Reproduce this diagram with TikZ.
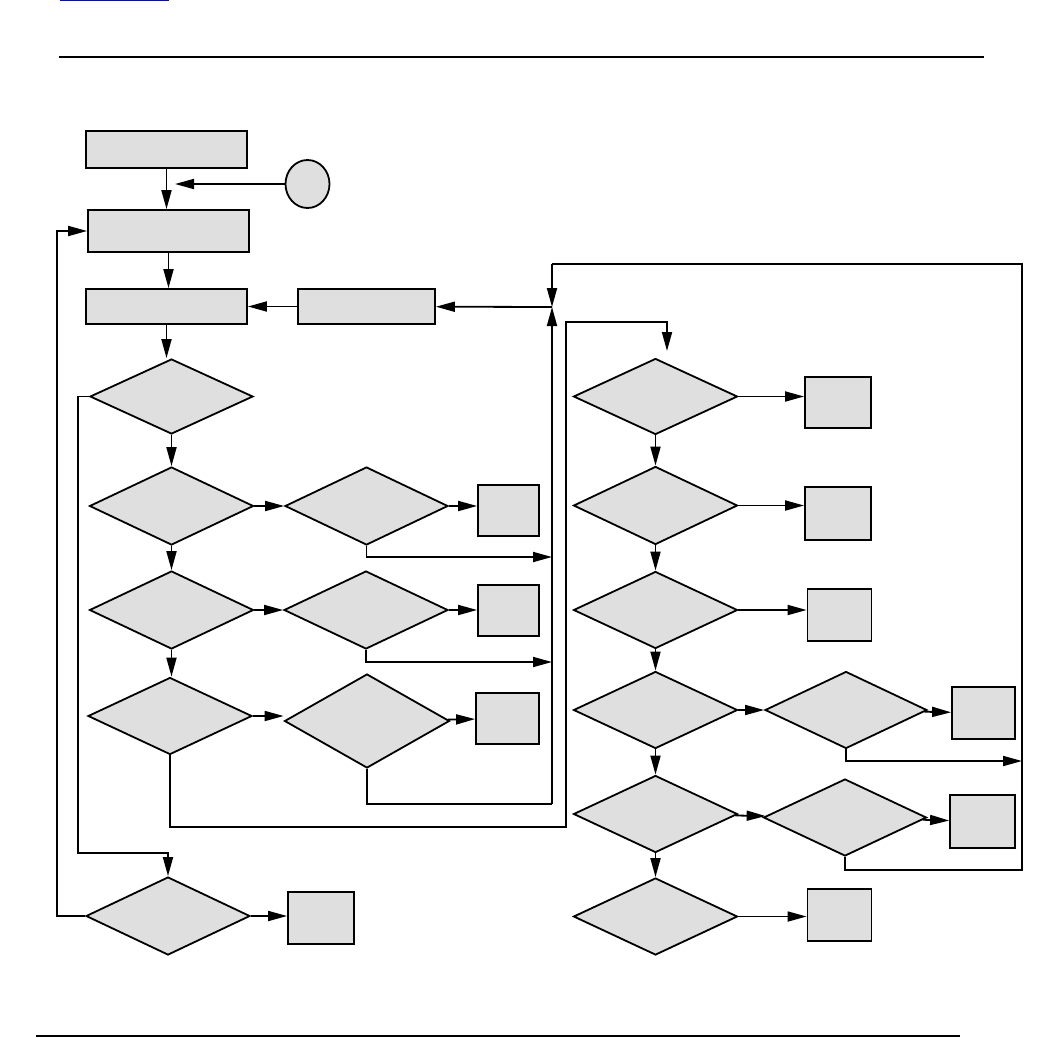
\documentclass[tikz,border=0pt]{standalone}
\usepackage{tikz}
\usetikzlibrary{arrows.meta, positioning, shapes.geometric}

\begin{document}
\begin{tikzpicture}[
  x=1pt, y=-1pt,
  box/.style={rectangle, draw, fill=gray!25, line width=1.8pt, inner sep=0pt},
  decision/.style={diamond, draw, fill=gray!25, line width=1.8pt, inner sep=0pt},
  arrow/.style={-{Triangle[length=19pt,width=10pt]}, line width=1.8pt},
  line/.style={line width=1.8pt},
  rule/.style={line width=2.2pt}
]
\useasboundingbox (0,0) rectangle (1052,1037);
\draw[blue, line width=1.2pt] (60,0.6) -- (169,0.6);
\draw[rule] (59,57) -- (984,57);
\draw[rule] (36,1036) -- (960,1036);

% left column
\node[box, minimum width=161pt, minimum height=37pt] (start) at (166.5,149.5) {};
\node[ellipse, draw, fill=gray!25, line width=1.8pt, inner sep=0pt,
      minimum width=44pt, minimum height=48pt] (conn) at (307.5,184) {};
\node[box, minimum width=161pt, minimum height=42pt] (init) at (168.5,231) {};
\node[box, minimum width=161pt, minimum height=35pt] (load) at (166.5,306.5) {};
\node[box, minimum width=137pt, minimum height=35pt] (reset) at (366.5,306.5) {};
\node[decision, minimum width=163pt, minimum height=75pt] (dl1) at (171.5,396.5) {};
\node[decision, minimum width=164pt, minimum height=78pt] (dl2) at (171.5,506) {};
\node[decision, minimum width=164pt, minimum height=78pt] (dl3) at (171.5,610) {};
\node[decision, minimum width=164pt, minimum height=77pt] (dl4) at (170,716) {};
\node[decision, minimum width=164pt, minimum height=78pt] (dl5) at (168,916) {};
\node[decision, minimum width=163pt, minimum height=78pt] (dm2) at (366.5,506) {};
\node[decision, minimum width=164pt, minimum height=78pt] (dm3) at (366,610) {};
\node[decision, minimum width=165pt, minimum height=94pt] (dm4) at (367,721) {};
\node[box, minimum width=61pt, minimum height=51pt] (bx2) at (508.5,510.5) {};
\node[box, minimum width=61pt, minimum height=51pt] (bx3) at (508.5,610.5) {};
\node[box, minimum width=63pt, minimum height=51pt] (bx4) at (507.5,718.5) {};
\node[box, minimum width=66pt, minimum height=52pt] (bx5) at (321,918) {};

% right column
\node[decision, minimum width=164pt, minimum height=76pt] (dr1) at (655.5,396.5) {};
\node[decision, minimum width=164pt, minimum height=78pt] (dr2) at (655.5,505.5) {};
\node[decision, minimum width=164pt, minimum height=77pt] (dr3) at (655.5,610) {};
\node[decision, minimum width=164pt, minimum height=77pt] (dr4) at (655.5,710) {};
\node[decision, minimum width=164pt, minimum height=77pt] (dr5) at (655.5,814) {};
\node[decision, minimum width=164pt, minimum height=77pt] (dr6) at (655.5,916.5) {};
\node[decision, minimum width=162pt, minimum height=77pt] (dq4) at (846,710) {};
\node[decision, minimum width=163pt, minimum height=77pt] (dq5) at (845,817.5) {};
\node[box, minimum width=66pt, minimum height=51pt] (br1) at (838,402.5) {};
\node[box, minimum width=66pt, minimum height=53pt] (br2) at (838,513.5) {};
\node[box, minimum width=64pt, minimum height=52pt] (br3) at (839.5,615) {};
\node[box, minimum width=64pt, minimum height=52pt] (br6) at (839.5,915) {};
\node[box, minimum width=63pt, minimum height=52pt] (bt4) at (983.5,713) {};
\node[box, minimum width=65pt, minimum height=53pt] (bt5) at (982.5,821.5) {};

% junction points
\coordinate (cjoin) at (175,184);
\coordinate (ctop) at (552,264);
\coordinate (cmid) at (552,307);
\coordinate (cbot) at (552,804);
\coordinate (cj2) at (552,557);
\coordinate (cj3) at (552,662);
\coordinate (rtop) at (1022,264);
\coordinate (rbot) at (1022,870);
\coordinate (rj4) at (1022,761);
\coordinate (lb) at (566,827);
\coordinate (lt) at (566,322);
\coordinate (rin) at (667,351);
\coordinate (la) at (78,853);

\draw[arrow] (start.south) -- (start.south |- init.north);
\draw[arrow] (conn) -- (cjoin);
\draw[arrow] (init.south) -- (init.south |- load.north);
\draw[arrow] (reset) -- (load);
\draw[arrow] (load.south) -- (load.south |- dl1.north);
\draw[arrow] (dl1) -- (dl2);
\draw[arrow] (dl2) -- (dl3);
\draw[arrow] (dl3.south) -- (dl3.south |- dl4.north);
\draw[arrow] (dl2) -- (dm2);
\draw[arrow] (dl3) -- (dm3);
\draw[arrow] (dl4.east) -- (dl4.east -| dm4.west);
\draw[arrow] (dm2.east) -- (dm2.east -| bx2.west);
\draw[arrow] (dm3.east) -- (dm3.east -| bx3.west);
\draw[arrow] (dm4) -- (bx4);
\draw[arrow] (dl5.east) -- (dl5.east -| bx5.west);
\draw[arrow] (dm2.south) |- (cj2);
\draw[arrow] (dm3.south) |- (cj3);
\draw[line] (dm4.south) |- (cbot);
\draw[arrow] (ctop) -- (cmid);
\draw[arrow] (cbot) -- (cmid);
\draw[arrow] (cmid) -- (reset);
\draw[arrow] (dl1.west) -| (la) -| (dl5.north);
\draw[arrow] (dl5.west) -- ++(-28,0) |- (init.west);
\draw[arrow] (dl4.south) |- (lb) -- (lt) -| (rin);

\draw[arrow] (dr1) -- (dr2);
\draw[arrow] (dr2) -- (dr3);
\draw[arrow] (dr3) -- (dr4);
\draw[arrow] (dr4) -- (dr5);
\draw[arrow] (dr5) -- (dr6);
\draw[arrow] (dr1.east) -- (dr1.east -| br1.west);
\draw[arrow] (dr2.east) -- (dr2.east -| br2.west);
\draw[arrow] (dr3.east) -- (dr3.east -| br3.west);
\draw[arrow] (dr6.east) -- (dr6.east -| br6.west);
\draw[arrow] (dr4) -- (dq4);
\draw[arrow] (dr5) -- (dq5);
\draw[arrow] (dq4) -- (bt4);
\draw[arrow] (dq5) -- (bt5);
\draw[arrow] (dq4.south) |- (rj4);
\draw[line] (dq5.south) |- (rbot) -- (rtop) -- (ctop);
\end{tikzpicture}
\end{document}
